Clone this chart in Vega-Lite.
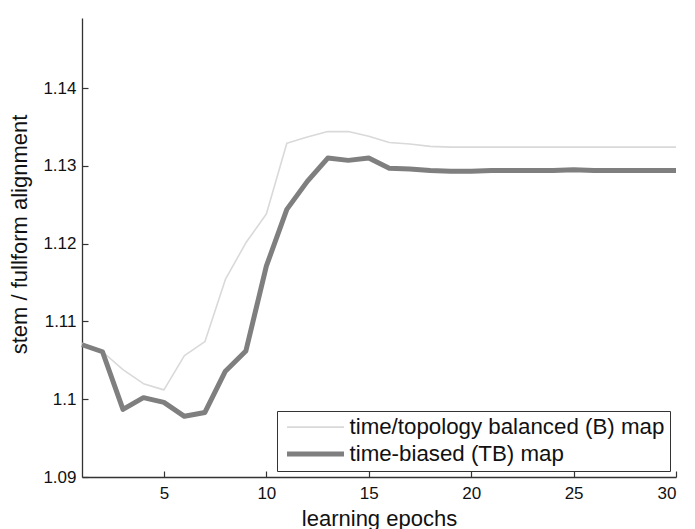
{
  "$schema": "https://vega.github.io/schema/vega-lite/v6.json",
  "autosize": {"type": "none"},
  "width": 594,
  "height": 459,
  "padding": {"left": 82, "top": 18, "right": 19, "bottom": 52},
  "background": "white",
  "config": {
    "view": {"stroke": null},
    "font": "Liberation Sans",
    "axis": {
      "domainColor": "#333333",
      "domainWidth": 1.3,
      "tickColor": "#333333",
      "tickWidth": 1.2,
      "tickSize": -6,
      "labelFont": "Liberation Sans",
      "labelFontSize": 17,
      "labelColor": "#111111",
      "titleFont": "Liberation Sans",
      "titleFontSize": 22,
      "titleFontWeight": "normal",
      "titleColor": "#111111",
      "grid": false
    },
    "legend": {
      "labelFont": "Liberation Sans",
      "labelFontSize": 22.3,
      "labelColor": "#111111",
      "labelLimit": 0
    }
  },
  "data": {
    "values": [
      {"epoch": 1, "value": 1.1072, "series": "time/topology balanced (B) map"},
      {"epoch": 2, "value": 1.1061, "series": "time/topology balanced (B) map"},
      {"epoch": 3, "value": 1.1038, "series": "time/topology balanced (B) map"},
      {"epoch": 4, "value": 1.1020, "series": "time/topology balanced (B) map"},
      {"epoch": 5, "value": 1.1012, "series": "time/topology balanced (B) map"},
      {"epoch": 6, "value": 1.1056, "series": "time/topology balanced (B) map"},
      {"epoch": 7, "value": 1.1074, "series": "time/topology balanced (B) map"},
      {"epoch": 8, "value": 1.1154, "series": "time/topology balanced (B) map"},
      {"epoch": 9, "value": 1.1201, "series": "time/topology balanced (B) map"},
      {"epoch": 10, "value": 1.1238, "series": "time/topology balanced (B) map"},
      {"epoch": 11, "value": 1.1329, "series": "time/topology balanced (B) map"},
      {"epoch": 12, "value": 1.1337, "series": "time/topology balanced (B) map"},
      {"epoch": 13, "value": 1.1344, "series": "time/topology balanced (B) map"},
      {"epoch": 14, "value": 1.1344, "series": "time/topology balanced (B) map"},
      {"epoch": 15, "value": 1.1338, "series": "time/topology balanced (B) map"},
      {"epoch": 16, "value": 1.1330, "series": "time/topology balanced (B) map"},
      {"epoch": 17, "value": 1.1328, "series": "time/topology balanced (B) map"},
      {"epoch": 18, "value": 1.1325, "series": "time/topology balanced (B) map"},
      {"epoch": 19, "value": 1.1324, "series": "time/topology balanced (B) map"},
      {"epoch": 20, "value": 1.1324, "series": "time/topology balanced (B) map"},
      {"epoch": 21, "value": 1.1324, "series": "time/topology balanced (B) map"},
      {"epoch": 22, "value": 1.1324, "series": "time/topology balanced (B) map"},
      {"epoch": 23, "value": 1.1324, "series": "time/topology balanced (B) map"},
      {"epoch": 24, "value": 1.1324, "series": "time/topology balanced (B) map"},
      {"epoch": 25, "value": 1.1324, "series": "time/topology balanced (B) map"},
      {"epoch": 26, "value": 1.1324, "series": "time/topology balanced (B) map"},
      {"epoch": 27, "value": 1.1324, "series": "time/topology balanced (B) map"},
      {"epoch": 28, "value": 1.1324, "series": "time/topology balanced (B) map"},
      {"epoch": 29, "value": 1.1324, "series": "time/topology balanced (B) map"},
      {"epoch": 30, "value": 1.1324, "series": "time/topology balanced (B) map"},
      {"epoch": 1, "value": 1.1070, "series": "time-biased (TB) map"},
      {"epoch": 2, "value": 1.1061, "series": "time-biased (TB) map"},
      {"epoch": 3, "value": 1.0987, "series": "time-biased (TB) map"},
      {"epoch": 4, "value": 1.1002, "series": "time-biased (TB) map"},
      {"epoch": 5, "value": 1.0996, "series": "time-biased (TB) map"},
      {"epoch": 6, "value": 1.0978, "series": "time-biased (TB) map"},
      {"epoch": 7, "value": 1.0983, "series": "time-biased (TB) map"},
      {"epoch": 8, "value": 1.1036, "series": "time-biased (TB) map"},
      {"epoch": 9, "value": 1.1062, "series": "time-biased (TB) map"},
      {"epoch": 10, "value": 1.1171, "series": "time-biased (TB) map"},
      {"epoch": 11, "value": 1.1244, "series": "time-biased (TB) map"},
      {"epoch": 12, "value": 1.1280, "series": "time-biased (TB) map"},
      {"epoch": 13, "value": 1.1310, "series": "time-biased (TB) map"},
      {"epoch": 14, "value": 1.1307, "series": "time-biased (TB) map"},
      {"epoch": 15, "value": 1.1310, "series": "time-biased (TB) map"},
      {"epoch": 16, "value": 1.1297, "series": "time-biased (TB) map"},
      {"epoch": 17, "value": 1.1296, "series": "time-biased (TB) map"},
      {"epoch": 18, "value": 1.1294, "series": "time-biased (TB) map"},
      {"epoch": 19, "value": 1.1293, "series": "time-biased (TB) map"},
      {"epoch": 20, "value": 1.1293, "series": "time-biased (TB) map"},
      {"epoch": 21, "value": 1.1294, "series": "time-biased (TB) map"},
      {"epoch": 22, "value": 1.1294, "series": "time-biased (TB) map"},
      {"epoch": 23, "value": 1.1294, "series": "time-biased (TB) map"},
      {"epoch": 24, "value": 1.1294, "series": "time-biased (TB) map"},
      {"epoch": 25, "value": 1.1295, "series": "time-biased (TB) map"},
      {"epoch": 26, "value": 1.1294, "series": "time-biased (TB) map"},
      {"epoch": 27, "value": 1.1294, "series": "time-biased (TB) map"},
      {"epoch": 28, "value": 1.1294, "series": "time-biased (TB) map"},
      {"epoch": 29, "value": 1.1294, "series": "time-biased (TB) map"},
      {"epoch": 30, "value": 1.1294, "series": "time-biased (TB) map"}
    ]
  },
  "encoding": {
    "x": {
      "field": "epoch", "type": "quantitative",
      "scale": {"domain": [1, 30], "nice": false, "zero": false},
      "axis": {"values": [5, 10, 15, 20, 25, 30], "title": "learning epochs", "labelPadding": 14, "titleY": 41, "titleBaseline": "middle"}
    },
    "y": {
      "field": "value", "type": "quantitative",
      "scale": {"domain": [1.09, 1.149], "nice": false, "zero": false},
      "axis": {"values": [1.09, 1.1, 1.11, 1.12, 1.13, 1.14], "format": ".2~f", "title": "stem / fullform alignment", "labelPadding": 12, "titleX": -63, "titleY": 216, "titleBaseline": "middle"}
    },
    "color": {
      "field": "series", "type": "nominal",
      "scale": {"domain": ["time/topology balanced (B) map", "time-biased (TB) map"], "range": ["#d9d9d9", "#7f7f7f"]},
      "legend": {
        "title": null,
        "orient": "none",
        "legendX": 195,
        "legendY": 393,
        "strokeColor": "#333333",
        "fillColor": "white",
        "padding": 5,
        "symbolType": "M-3,0L3,0",
        "symbolSize": 361,
        "symbolOffset": 21.5,
        "labelOffset": 22,
        "rowPadding": 3
      }
    },
    "strokeWidth": {
      "field": "series", "type": "nominal",
      "scale": {"domain": ["time/topology balanced (B) map", "time-biased (TB) map"], "range": [1.6, 5]},
      "legend": {
        "title": null,
        "orient": "none",
        "legendX": 195,
        "legendY": 393,
        "strokeColor": "#333333",
        "fillColor": "white",
        "padding": 5,
        "symbolType": "M-3,0L3,0",
        "symbolSize": 361,
        "symbolOffset": 21.5,
        "labelOffset": 22,
        "rowPadding": 3
      }
    }
  },
  "layer": [
    {
      "transform": [{"filter": "datum.series === 'time/topology balanced (B) map'"}],
      "mark": {"type": "line", "strokeJoin": "round"}
    },
    {
      "transform": [{"filter": "datum.series === 'time-biased (TB) map'"}],
      "mark": {"type": "line", "strokeJoin": "round"}
    }
  ]
}
